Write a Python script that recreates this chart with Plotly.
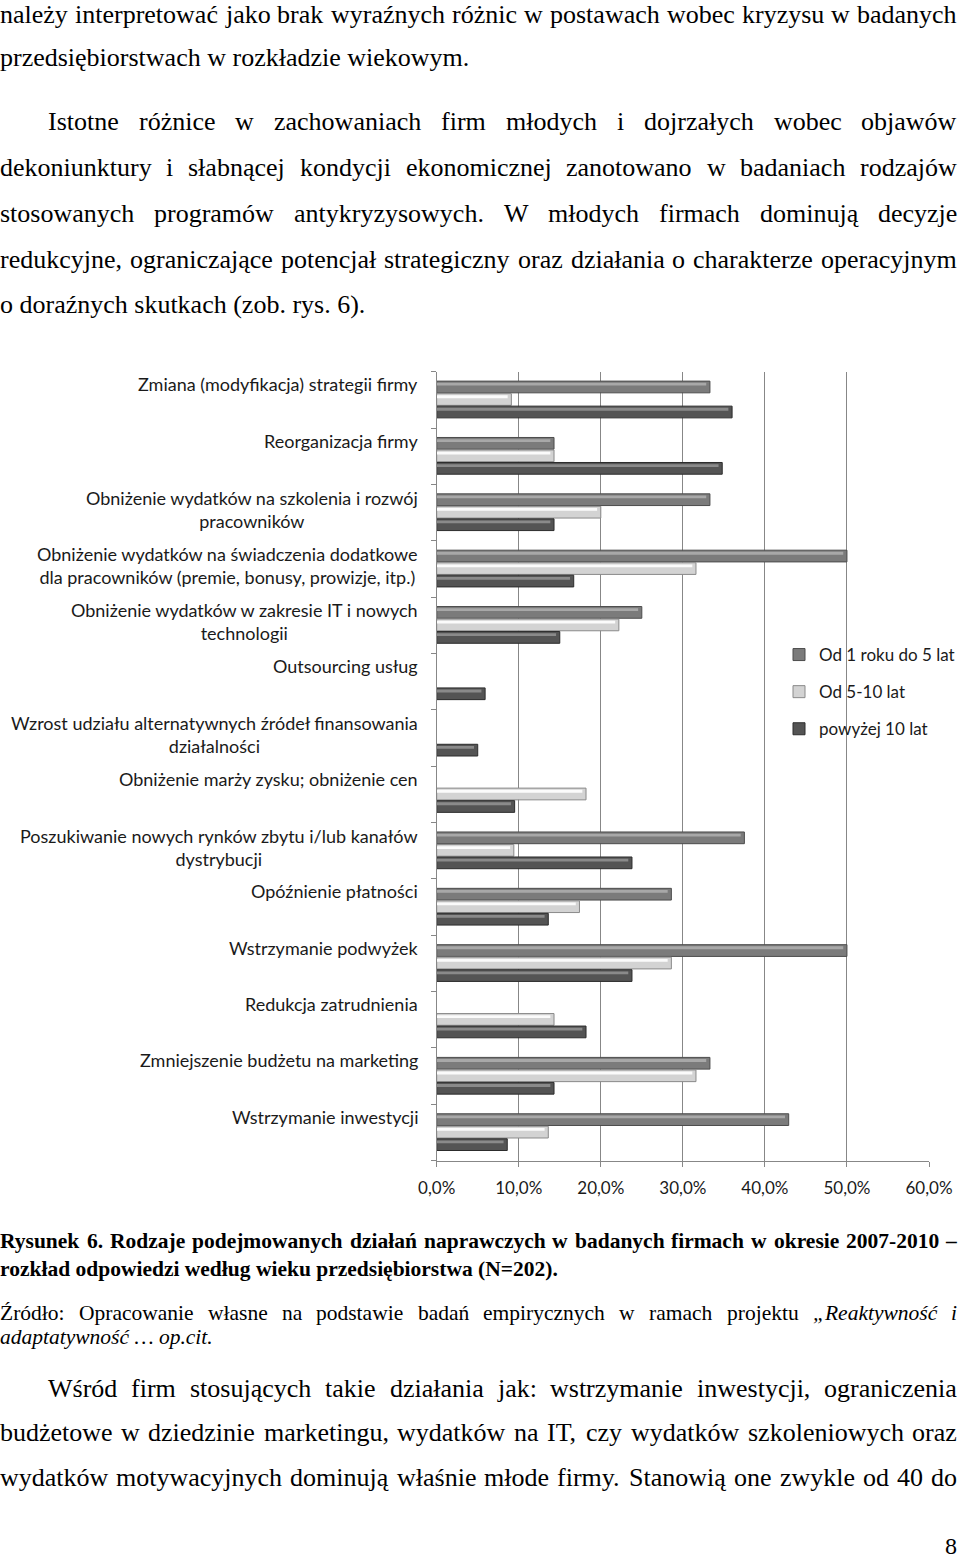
import plotly.graph_objects as go

W, H = 960, 1561

# ---------------- chart data ----------------
categories = [
    "Zmiana (modyfikacja) strategii firmy",
    "Reorganizacja firmy",
    "Obniżenie wydatków na szkolenia i rozwój\npracowników",
    "Obniżenie wydatków na świadczenia dodatkowe\ndla pracowników (premie, bonusy, prowizje, itp.)",
    "Obniżenie wydatków w zakresie IT i nowych\ntechnologii",
    "Outsourcing usług",
    "Wzrost udziału alternatywnych źródeł finansowania\ndziałalności",
    "Obniżenie marży zysku; obniżenie cen",
    "Poszukiwanie nowych rynków zbytu i/lub kanałów\ndystrybucji",
    "Opóźnienie płatności",
    "Wstrzymanie podwyżek",
    "Redukcja zatrudnienia",
    "Zmniejszenie budżetu na marketing",
    "Wstrzymanie inwestycji",
]
series_names = ["Od 1 roku do 5 lat", "Od 5-10 lat", "powyżej 10 lat"]
firms_1_5 = [33.3, 14.3, 33.3, 50.0, 25.0, 0, 0, 0, 37.5, 28.6, 50.0, 0, 33.3, 42.9]
firms_5_10 = [9.1, 14.3, 20.0, 31.6, 22.2, 0, 0, 18.2, 9.4, 17.4, 28.6, 14.3, 31.6, 13.6]
firms_10_plus = [36.0, 34.8, 14.3, 16.7, 15.0, 5.9, 5.0, 9.5, 23.8, 13.6, 23.8, 18.2, 14.3, 8.6]
x_ticks = [0, 10, 20, 30, 40, 50, 60]
x_tick_labels = ["0,0%", "10,0%", "20,0%", "30,0%", "40,0%", "50,0%", "60,0%"]

# ---------------- page text ----------------
top_lines = [
    ("należy interpretować jako brak wyraźnych różnic w postawach wobec kryzysu w badanych", 15, 0, True),
    ("przedsiębiorstwach w rozkładzie wiekowym.", 58, 0, False),
    ("Istotne różnice w zachowaniach firm młodych i dojrzałych wobec objawów", 122, 48, True),
    ("dekoniunktury i słabnącej kondycji ekonomicznej zanotowano w badaniach rodzajów", 168, 0, True),
    ("stosowanych programów antykryzysowych. W młodych firmach dominują decyzje", 213, 0, True),
    ("redukcyjne, ograniczające potencjał strategiczny oraz działania o charakterze operacyjnym", 259, 0, True),
    ("o doraźnych skutkach (zob. rys. 6).", 304, 0, False),
]
bottom_lines = [
    ("Wśród firm stosujących takie działania jak: wstrzymanie inwestycji, ograniczenia", 1388, 48, True),
    ("budżetowe w dziedzinie marketingu, wydatków na IT, czy wydatków szkoleniowych oraz", 1432, 0, True),
    ("wydatków motywacyjnych dominują właśnie młode firmy. Stanowią one zwykle od 40 do", 1477, 0, True),
]
caption_lines = [
    ([("Rysunek 6. Rodzaje podejmowanych działań naprawczych w badanych firmach w okresie 2007-2010 –", "b")], 1241, 0, True),
    ([("rozkład odpowiedzi według wieku przedsiębiorstwa (N=202).", "b")], 1269, 0, False),
]
source_lines = [
    ([("Źródło: Opracowanie własne na podstawie badań empirycznych w ramach projektu", "r"),
      ("„Reaktywność i", "i")], 1313, 0, True),
    ([("adaptatywność … op.cit.", "i")], 1337, 0, False),
]
page_number = "8"

# ---------------- styles ----------------
fill_colors = ["#7b7b7b", "#d3d3d3", "#545454"]
edge_colors = ["#4c4c4c", "#8a8a8a", "#2c2c2c"]
shine_colors = ["#a8a8a8", "#fbfbfb", "#8a8a8a"]
grid_color = "#878787"
chart_font = "Lato"
serif = "Liberation Serif"

X0, X1 = 436.7, 929.0      # plot area, px
Y0, Y1 = 371.7, 1160.7
n_cat = len(categories)
band_px = (Y1 - Y0) / n_cat

fig = go.Figure()
pos = list(range(n_cat))
pitch, bar_w, first = 0.222, 0.208, -0.333
for k, (name, vals) in enumerate(zip(series_names, [firms_1_5, firms_5_10, firms_10_plus])):
    off = first + k * pitch
    fig.add_trace(go.Bar(
        y=pos, x=[v if v > 0 else None for v in vals], orientation="h", name=name,
        offset=off, width=bar_w, legendgroup=name,
        marker=dict(color=fill_colors[k], line=dict(color=edge_colors[k], width=1)),
    ))
    fig.add_trace(go.Bar(
        y=pos, x=[v - 0.45 if v > 0 else None for v in vals], orientation="h",
        offset=off + 0.03, width=0.05, showlegend=False, hoverinfo="skip",
        legendgroup=name,
        marker=dict(color=shine_colors[k], line=dict(width=0)),
    ))

# category labels (top-aligned in each band, centred multi-line)
for i, lab in enumerate(categories):
    n = lab.count("\n") + 1
    yc = (i - 0.5) + (12.5 + (n - 1) * 12.25) / band_px
    fig.add_annotation(
        xref="paper", yref="y", x=418 / W, y=yc, xanchor="right", yanchor="middle",
        text=lab.replace("\n", "<br>"), align="center", showarrow=False,
        borderpad=0, borderwidth=0,
        font=dict(family=chart_font, size=18, color="#1a1a1a"),
    )

# ---------------- text layout helpers ----------------
BASE = str.maketrans("ąćęłńóśźżĄĆĘŁŃÓŚŹŻ", "acelnoszzACELNOSZZ")
low = "abcdefghijklmnopqrstuvwxyz"
up = "ABCDEFGHIJKLMNOPQRSTUVWXYZ"
TR = dict(zip(low, [444, 500, 444, 500, 444, 333, 500, 500, 278, 278, 500, 278, 778, 500, 500, 500, 500, 333, 389, 278, 500, 500, 722, 500, 500, 444]))
TR.update(zip(up, [722, 667, 667, 722, 611, 556, 722, 722, 333, 389, 722, 611, 889, 722, 722, 556, 722, 667, 556, 611, 722, 722, 944, 722, 722, 611]))
TR.update({" ": 250, ".": 250, ",": 250, ":": 278, ";": 278, "(": 333, ")": 333, "-": 333, "–": 500, "/": 278, "=": 564, "„": 444, "…": 1000, "%": 833})
TB = dict(zip(low, [500, 556, 444, 556, 444, 333, 500, 556, 278, 333, 556, 278, 833, 556, 500, 556, 556, 444, 389, 333, 556, 500, 722, 500, 500, 444]))
TB.update(zip(up, [722, 667, 722, 722, 667, 611, 778, 778, 389, 500, 778, 667, 944, 722, 778, 611, 778, 722, 556, 667, 722, 722, 1000, 722, 722, 667]))
TB.update({" ": 250, ".": 250, ",": 250, ":": 333, "(": 333, ")": 333, "-": 333, "–": 500, "=": 570})
TI = dict(zip(low, [500, 500, 444, 500, 444, 278, 500, 500, 278, 278, 444, 278, 722, 500, 500, 500, 500, 389, 389, 278, 500, 444, 667, 444, 444, 389]))
TI.update(zip(up, [611, 611, 667, 722, 611, 611, 722, 722, 333, 444, 667, 556, 833, 667, 722, 611, 722, 611, 500, 556, 722, 611, 833, 611, 556, 556]))
TI.update({" ": 250, ".": 250, ",": 250, "„": 556, "…": 889})
TABLES = {"r": TR, "b": TB, "i": TI}


def tw(word, style, size):
    t = TABLES[style]
    return sum(t.get(c, 500) for c in word.translate(BASE)) * size / 1000


def wrap(word, style):
    if style == "b":
        return "<b>" + word + "</b>"
    if style == "i":
        return "<i>" + word + "</i>"
    return word


def add_text(text, x, y, size, xanchor="left"):
    fig.add_annotation(
        xref="paper", yref="paper", x=x / W, y=1 - y / H, xanchor=xanchor, yanchor="middle",
        text=text, showarrow=False, borderpad=0, borderwidth=0, align="left",
        font=dict(family=serif, size=size, color="#000000"),
    )


def add_line(segments, y, x0, justify, size, x1=957):
    words = [(w, s) for txt, s in segments for w in txt.split()]
    if not justify:
        add_text(" ".join(wrap(w, s) for w, s in words), x0, y, size)
        return
    widths = [tw(w, s, size) for w, s in words]
    gap = (x1 - x0 - sum(widths)) / (len(words) - 1)
    if gap < 0.15 * size:
        size = size * (x1 - x0) / (sum(widths) + 0.15 * size * (len(words) - 1))
        widths = [tw(w, s, size) for w, s in words]
        gap = (x1 - x0 - sum(widths)) / (len(words) - 1)
    x = x0
    for i, (w, s) in enumerate(words):
        if i == len(words) - 1:
            add_text(wrap(w, s), x1, y, size, "right")
        else:
            add_text(wrap(w, s), x, y, size)
        x += widths[i] + gap


for txt, y, x0, j in top_lines + bottom_lines:
    add_line([(txt, "r")], y, x0, j, 26)
for segs, y, x0, j in caption_lines:
    add_line(segs, y, x0, j, 21.5)
for segs, y, x0, j in source_lines:
    add_line(segs, y, x0, j, 21.5)
add_text(page_number, 957, 1546, 24, "right")

# ---------------- layout ----------------
fig.update_layout(
    width=W, height=H, autosize=False,
    margin=dict(l=0, r=0, t=0, b=0, autoexpand=False),
    paper_bgcolor="white", plot_bgcolor="white",
    barmode="overlay", showlegend=True,
    xaxis=dict(
        domain=[X0 / W, X1 / W], range=[0, 60], tickmode="array",
        tickvals=x_ticks, ticktext=x_tick_labels,
        showgrid=True, gridcolor=grid_color, gridwidth=1.3,
        showline=True, linecolor=grid_color, linewidth=1.3, ticks="outside", ticklen=5,
        tickcolor=grid_color, zeroline=False, automargin=False, ticklabelstandoff=7,
        tickfont=dict(family=chart_font, size=17, color="#1a1a1a"),
    ),
    yaxis=dict(
        domain=[1 - Y1 / H, 1 - Y0 / H], range=[n_cat - 0.5, -0.5],
        tickvals=[i - 0.5 for i in range(n_cat + 1)], ticktext=[""] * (n_cat + 1),
        showgrid=False, zeroline=False, showline=True, linecolor=grid_color, linewidth=1.3,
        ticks="outside", ticklen=5, tickcolor=grid_color, automargin=False,
    ),
    legend=dict(
        x=779 / W, y=1 - 637 / H, xanchor="left", yanchor="top",
        bgcolor="rgba(0,0,0,0)", tracegroupgap=12, traceorder="grouped",
        font=dict(family=chart_font, size=17, color="#1a1a1a"),
    ),
)

fig.write_html(
    "out.html", config={"displayModeBar": False, "responsive": False},
    post_script="document.body.style.margin='0';document.body.style.overflow='hidden';",
)
